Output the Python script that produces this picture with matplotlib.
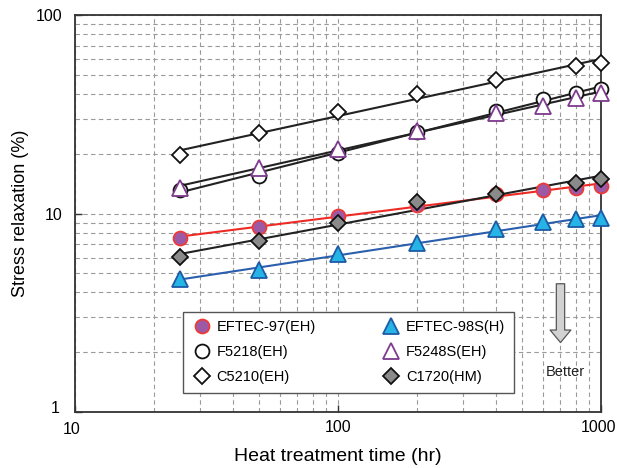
import numpy as np
import matplotlib
matplotlib.use('Agg')
import matplotlib.pyplot as plt
import matplotlib.transforms as mtrans
from matplotlib.ticker import LogLocator, NullFormatter, FixedFormatter, FixedLocator

plt.rcParams['font.family'] = ['Liberation Sans', 'DejaVu Sans']

# data
hours = [25, 50, 100, 200, 400, 600, 800, 1000]
hours_no600 = [25, 50, 100, 200, 400, 800, 1000]

eftec97 = [7.54, 8.53, 9.69, 11.1, 12.5, 13.06, 13.5, 13.8]
eftec98s = [4.69, 5.18, 6.22, 7.11, 8.31, 9.04, 9.33, 9.51]
f5218 = [13.1, 15.4, 20.2, 25.7, 32.8, 37.8, 40.3, 42.5]
f5248s = [13.4, 17.0, 21.2, 26.0, 32.2, 35.0, 38.3, 40.3]
c5210 = [19.6, 25.5, 32.4, 39.8, 47.3, 55.2, 57.4]
c1720 = [6.02, 7.25, 8.98, 11.45, 12.5, 14.3, 14.9]

series = [
    # label, x, y, marker, face, edge, line colour, size
    ('EFTEC-97(EH)', hours, eftec97, 'o', '#9c5aa6', '#ee3a36', '#ee2a24', 10),
    ('F5218(EH)', hours, f5218, 'o', 'white', '#111111', '#222222', 10),
    ('C5210(EH)', hours_no600, c5210, 'D', 'white', '#111111', '#222222', 8),
    ('EFTEC-98S(H)', hours, eftec98s, '^', '#26b3e6', '#1d5aa6', '#2b5fae', 11.5),
    ('F5248S(EH)', hours, f5248s, '^', 'white', '#7d3a8e', '#222222', 11.5),
    ('C1720(HM)', hours_no600, c1720, 'D', '#8a8a8a', '#111111', '#222222', 8),
]

fig = plt.figure(figsize=(6.17, 4.68), dpi=100)
ax = fig.add_axes([75 / 617, 1 - 412 / 468, 526 / 617, 397 / 468])

handles = []
for label, x, y, mk, fc, ec, lc, ms in series:
    # power-law fit line, as in the original
    k, b = np.polyfit(np.log10(x), np.log10(y), 1)
    xf = np.array([25, 965])
    ax.plot(xf, 10 ** (b + k * np.log10(xf)), color=lc, lw=1.5, zorder=3)
    h, = ax.plot(x, y, ls='none', marker=mk, ms=ms, mfc=fc, mec=ec, mew=1.3,
                 zorder=4, label=label, clip_on=False)
    handles.append(h)

ax.set_xscale('log')
ax.set_yscale('log')
ax.set_xlim(10, 1000)
ax.set_ylim(1, 100)

ax.xaxis.set_major_locator(FixedLocator([10, 100, 1000]))
ax.xaxis.set_major_formatter(FixedFormatter(['10', '100', '1000']))
ax.yaxis.set_major_locator(FixedLocator([1, 10, 100]))
ax.yaxis.set_major_formatter(FixedFormatter(['1', '10', '100']))
ax.xaxis.set_minor_locator(LogLocator(base=10, subs=np.arange(2, 10)))
ax.yaxis.set_minor_locator(LogLocator(base=10, subs=np.arange(2, 10)))
ax.xaxis.set_minor_formatter(NullFormatter())
ax.yaxis.set_minor_formatter(NullFormatter())

ax.grid(True, which='both', ls=(0, (4, 3)), color='#9a9a9a', lw=0.8)
ax.tick_params(which='major', direction='in', length=5, width=1, labelsize=11.5, color='#333333')
ax.tick_params(axis='x', which='major', pad=6)
ax.tick_params(axis='y', which='major', pad=9)
ax.tick_params(which='minor', length=0)
for s in ax.spines.values():
    s.set_color('#333333')
    s.set_linewidth(1.3)

# nudge corner labels like the original
fig.canvas.draw()
xl = ax.get_xticklabels()
xl[2].set_transform(xl[2].get_transform() + mtrans.ScaledTranslation(-3 / 100, 0, fig.dpi_scale_trans))
xl[0].set_transform(xl[0].get_transform() + mtrans.ScaledTranslation(-3 / 100, -2 / 100, fig.dpi_scale_trans))
yl = ax.get_yticklabels()
yl[0].set_transform(yl[0].get_transform() + mtrans.ScaledTranslation(-3 / 100, 5 / 100, fig.dpi_scale_trans))

ax.set_xlabel('Heat treatment time (hr)', fontsize=14, labelpad=8)
ax.set_ylabel('Stress relaxation (%)', fontsize=13, labelpad=5)

leg = ax.legend(handles=handles, ncol=2, loc='lower left', bbox_to_anchor=(0.205, 0.048),
                fontsize=10.5, frameon=True, fancybox=False, edgecolor='#555555',
                framealpha=1, borderpad=0.6, columnspacing=4.5, handletextpad=0.3,
                labelspacing=0.75, handlelength=1.4, borderaxespad=0)
leg.get_frame().set_linewidth(1.0)

# "Better" arrow
ax.annotate('', xy=(0.923, 0.168), xytext=(0.923, 0.33), xycoords='axes fraction',
            arrowprops=dict(arrowstyle='simple,head_width=1.5,head_length=0.9,tail_width=0.6',
                            fc='#d2d2d2', ec='#555555', lw=0.9))
ax.text(0.933, 0.10, 'Better', transform=ax.transAxes, ha='center', va='center', fontsize=10.5,
        color='#222222')

plt.savefig('out.png', dpi=100)
